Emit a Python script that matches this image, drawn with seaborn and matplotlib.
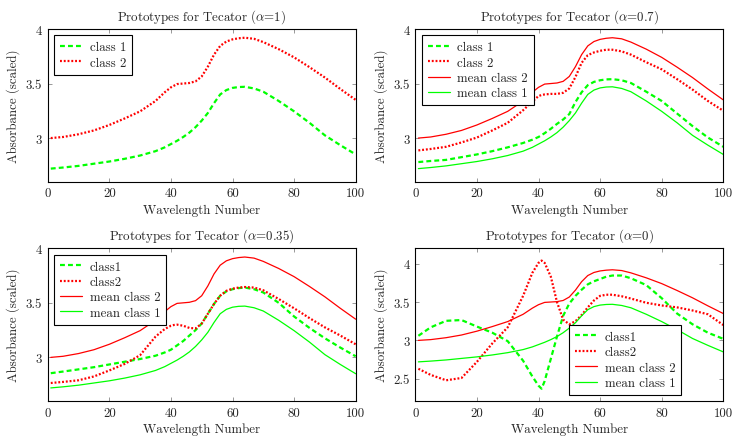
import seaborn as sns
import numpy as np
import pandas as pd
import matplotlib.pyplot as plt

wl = [1, 5, 10, 15, 20, 25, 30, 35, 38, 40, 41, 42, 44, 46, 48, 50, 52, 54, 56, 58,
      60, 62, 64, 67, 70, 75, 80, 85, 90, 95, 100]

mean_class1 = [2.72, 2.73, 2.745, 2.765, 2.785, 2.81, 2.84, 2.88, 2.915, 2.945, 2.96, 2.975,
               3.01, 3.05, 3.10, 3.16, 3.23, 3.32, 3.40, 3.44, 3.46, 3.468, 3.47, 3.455,
               3.425, 3.34, 3.245, 3.14, 3.025, 2.935, 2.85]
mean_class2 = [3.00, 3.01, 3.035, 3.07, 3.12, 3.18, 3.245, 3.34, 3.42, 3.465, 3.48, 3.495,
               3.50, 3.505, 3.52, 3.565, 3.655, 3.765, 3.845, 3.885, 3.905, 3.915, 3.92, 3.91,
               3.88, 3.815, 3.74, 3.65, 3.555, 3.45, 3.35]

class1_07 = [2.78, 2.79, 2.80, 2.825, 2.85, 2.88, 2.915, 2.955, 2.985, 3.01, 3.027, 3.045,
             3.085, 3.13, 3.17, 3.22, 3.33, 3.42, 3.485, 3.515, 3.53, 3.538, 3.54, 3.53,
             3.505, 3.425, 3.34, 3.225, 3.11, 3.005, 2.92]
class2_07 = [2.887, 2.90, 2.92, 2.96, 3.005, 3.07, 3.14, 3.255, 3.335, 3.385, 3.395, 3.40,
             3.405, 3.405, 3.415, 3.455, 3.56, 3.69, 3.76, 3.785, 3.80, 3.81, 3.81, 3.795,
             3.765, 3.695, 3.63, 3.54, 3.445, 3.34, 3.25]

class1_035 = [2.855, 2.87, 2.89, 2.91, 2.935, 2.96, 2.985, 3.015, 3.045, 3.07, 3.09, 3.11,
              3.15, 3.20, 3.25, 3.31, 3.40, 3.49, 3.565, 3.605, 3.625, 3.635, 3.64, 3.625,
              3.595, 3.50, 3.375, 3.27, 3.175, 3.09, 3.01]
class2_035 = [2.765, 2.775, 2.79, 2.825, 2.88, 2.94, 3.02, 3.19, 3.26, 3.29, 3.297, 3.30,
              3.29, 3.27, 3.265, 3.31, 3.40, 3.49, 3.565, 3.61, 3.63, 3.64, 3.645, 3.64,
              3.615, 3.535, 3.45, 3.36, 3.275, 3.20, 3.12]

class1_0 = [3.06, 3.17, 3.255, 3.265, 3.18, 3.10, 2.99, 2.735, 2.53, 2.41, 2.37, 2.47,
            2.76, 3.05, 3.32, 3.48, 3.58, 3.66, 3.73, 3.77, 3.80, 3.83, 3.845, 3.845,
            3.81, 3.72, 3.55, 3.35, 3.21, 3.10, 3.02]
class2_0 = [2.63, 2.55, 2.48, 2.51, 2.72, 2.96, 3.17, 3.58, 3.88, 4.01, 4.04, 4.01,
            3.83, 3.50, 3.27, 3.21, 3.25, 3.33, 3.43, 3.52, 3.58, 3.595, 3.595, 3.575,
            3.545, 3.49, 3.455, 3.43, 3.39, 3.34, 3.20]

alphas = ["1", "0.7", "0.35", "0"]
xticks = [0, 20, 40, 60, 80, 100]
yticks_top = [3, 3.5, 4]
yticks_last = [2.5, 3, 3.5, 4]

sns.set_style("ticks")
plt.rcParams["font.family"] = ["cmr10", "DejaVu Serif"]
plt.rcParams["mathtext.fontset"] = "cm"
plt.rcParams["axes.formatter.use_mathtext"] = True
FS = 9.3
plt.rcParams["font.size"] = FS

GREEN = "#00ff00"
RED = "#ff0000"
dash = (0, (2.2, 1.4))
dot = (0, (0.85, 0.85))

fig = plt.figure(figsize=(7.33, 4.39), dpi=100)
w, h = 308 / 733, 152.7 / 439
pos = [(47.7 / 733, 1 - 182.7 / 439), (415.3 / 733, 1 - 182.7 / 439),
       (47.7 / 733, 1 - 402 / 439), (415.3 / 733, 1 - 402 / 439)]
axes = [fig.add_axes([l, b, w, h]) for l, b in pos]

panels = [
    [(mean_class1, "class 1", GREEN, dash, 1.6), (mean_class2, "class 2", RED, dot, 1.6)],
    [(class1_07, "class 1", GREEN, dash, 1.6), (class2_07, "class 2", RED, dot, 1.6),
     (mean_class2, "mean class 2", RED, "-", 0.9), (mean_class1, "mean class 1", GREEN, "-", 0.9)],
    [(class1_035, "class1", GREEN, dash, 1.6), (class2_035, "class2", RED, dot, 1.6),
     (mean_class2, "mean class 2", RED, "-", 0.9), (mean_class1, "mean class 1", GREEN, "-", 0.9)],
    [(class1_0, "class1", GREEN, dash, 1.6), (class2_0, "class2", RED, dot, 1.6),
     (mean_class2, "mean class 2", RED, "-", 0.9), (mean_class1, "mean class 1", GREEN, "-", 0.9)],
]

for i, ax in enumerate(axes):
    for vals, lab, col, ls, lw in panels[i]:
        sns.lineplot(x=wl, y=vals, ax=ax, color=col, linestyle=ls, linewidth=lw, label=lab)
    ax.set_xlim(0, 100)
    ax.set_xticks(xticks)
    ax.set_xticklabels([str(t) for t in xticks])
    if i < 3:
        ax.set_ylim(2.6, 4.0)
        yt = yticks_top
    else:
        ax.set_ylim(2.21, 4.2)
        yt = yticks_last
    ax.set_yticks(yt)
    ax.set_yticklabels([f"{t:g}" for t in yt])
    ax.tick_params(direction="in", length=3, width=0.6, color="#888888",
                   top=True, right=True, labelsize=FS, pad=4)
    for s in ax.spines.values():
        s.set_linewidth(0.8)
        s.set_color("black")
    ax.set_title(rf"Prototypes for Tecator ($\alpha$={alphas[i]})", fontsize=FS, pad=7)
    ax.set_xlabel("Wavelength Number", fontsize=FS, labelpad=3)
    ax.set_ylabel("Absorbance (scaled)", fontsize=FS, labelpad=4)
    if i < 3:
        leg = ax.legend(loc="upper left", borderaxespad=0.5, labelspacing=0.25,
                        handlelength=1.7, handletextpad=0.6, borderpad=0.45)
    else:
        leg = ax.legend(loc="lower left", bbox_to_anchor=(0.5, 0.04), borderaxespad=0,
                        labelspacing=0.25, handlelength=1.7, handletextpad=0.6, borderpad=0.45)
    leg.get_frame().set_edgecolor("black")
    leg.get_frame().set_linewidth(0.8)
    leg.get_frame().set_boxstyle("square", pad=0)
    leg.get_frame().set_alpha(1)
    for t in leg.get_texts():
        t.set_fontsize(FS)

fig.savefig("out.png", dpi=100)
